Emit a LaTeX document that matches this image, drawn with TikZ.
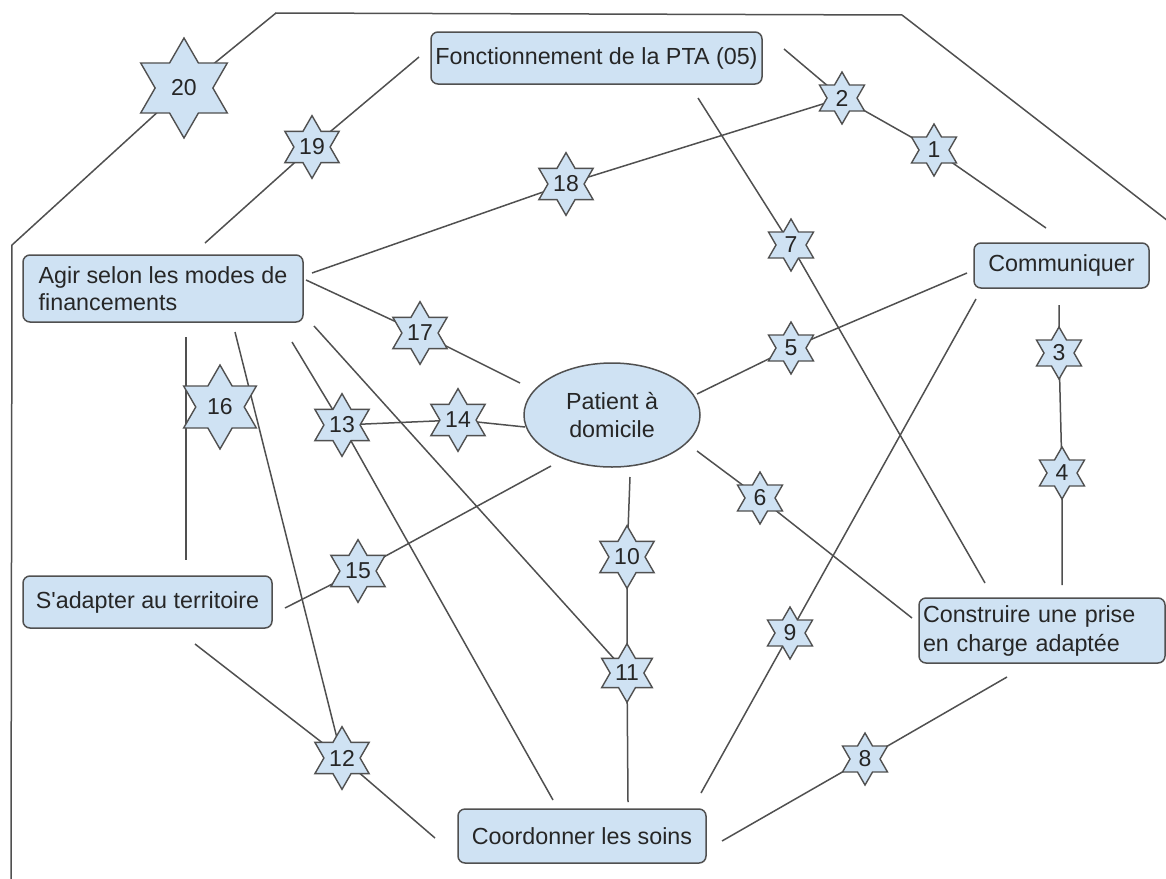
\documentclass[tikz,border=0pt]{standalone}
\usepackage{fontspec}
\setmainfont{Liberation Sans}
\usetikzlibrary{shapes.geometric,backgrounds}
\definecolor{boxfill}{HTML}{CFE2F3}
\definecolor{edgecol}{HTML}{505050}
\definecolor{txtcol}{HTML}{262626}
\begin{document}
\begin{tikzpicture}[x=1pt,y=-1pt,
  box/.style={draw=edgecol, fill=boxfill, line width=1.5pt, rounded corners=7pt, text=txtcol, font=\fontsize{23.3}{27}\selectfont, inner sep=0pt},
  starnode/.style={star, star points=6, star point ratio=1.732, draw=edgecol, fill=boxfill, line width=1.4pt, inner sep=0pt, minimum size=52pt, text=txtcol, font=\fontsize{23}{27}\selectfont},
  bigstar/.style={starnode, minimum size=100pt},
  midstar/.style={starnode, minimum size=84pt},
  link/.style={draw=edgecol, line width=1.5pt}]
\useasboundingbox (0,0) rectangle (1166,878);
% boxes
\node[box, minimum width=331pt, minimum height=52pt] (F) at (596.5,58) {Fonctionnement de la PTA (05)};
\node[box, minimum width=175pt, minimum height=45pt] (C) at (1061.5,265.5) {Communiquer};
\node[box, minimum width=280pt, minimum height=67pt, align=left] (A) at (163,288.5) {Agir selon les modes de\\financements};
\node[box, minimum width=249pt, minimum height=52pt] (S) at (147.5,602) {S\textquotesingle adapter au territoire};
\node[box, minimum width=246pt, minimum height=65pt, text width=238pt, align=left, font=\fontsize{23.3}{29}\selectfont] (K) at (1042,630.5) {Construire une prise\\en charge adaptée};
\node[box, minimum width=248pt, minimum height=54pt] (D) at (582,836) {Coordonner les soins};
\node[ellipse, draw=edgecol, fill=boxfill, line width=1.5pt, minimum width=176pt, minimum height=104pt, inner sep=0pt, align=center, text=txtcol, font=\fontsize{23.3}{28}\selectfont] (P) at (612,415) {Patient à\\domicile};
% stars
\node[bigstar] (s20) at (184,88) {20};
\node[starnode] (s19) at (312,147) {19};
\node[starnode] (s18) at (566,184) {18};
\node[starnode] (s2) at (842,98) {2};
\node[starnode] (s1) at (934,150) {1};
\node[starnode] (s7) at (791,245) {7};
\node[starnode] (s17) at (420,333) {17};
\node[starnode] (s5) at (791,348) {5};
\node[starnode] (s3) at (1059,353) {3};
\node[midstar] (s16) at (220,407) {16};
\node[starnode] (s13) at (342,425) {13};
\node[starnode] (s14) at (458,420) {14};
\node[starnode] (s4) at (1062,473) {4};
\node[starnode] (s6) at (760,498) {6};
\node[starnode] (s10) at (627,557) {10};
\node[starnode] (s15) at (358,571) {15};
\node[starnode] (s9) at (790,633) {9};
\node[starnode] (s11) at (627,673) {11};
\node[starnode] (s12) at (342,758) {12};
\node[starnode] (s8) at (865,759) {8};
% free ends
\coordinate (o1) at (11,880);
\coordinate (o2) at (12,245);
\coordinate (o3) at (276,13);
\coordinate (o4) at (902,15);
\coordinate (o5) at (1168,221);
\coordinate (fA) at (784,49);
\coordinate (cA) at (1046,228);
\coordinate (fB) at (419,57);
\coordinate (aB) at (205,243);
\coordinate (aC) at (312,273);
\coordinate (fD) at (698,98);
\coordinate (kD) at (985,583);
\coordinate (aE) at (306,280);
\coordinate (pE) at (520,383);
\coordinate (pF) at (697,394);
\coordinate (cF) at (967,273);
\coordinate (cG) at (1059,305);
\coordinate (kG) at (1062,585);
\coordinate (aH) at (186,337);
\coordinate (sH) at (186,560);
\coordinate (aI) at (235,332);
\coordinate (aJ) at (292,342);
\coordinate (dJ) at (553,800);
\coordinate (aK) at (314,326);
\coordinate (pL) at (525,427);
\coordinate (pM) at (551,466);
\coordinate (sM) at (285,608);
\coordinate (sN) at (195,644);
\coordinate (dN) at (435,838);
\coordinate (pO) at (630,477);
\coordinate (dO) at (628,802);
\coordinate (cP) at (976,299);
\coordinate (dP) at (701,793);
\coordinate (pQ) at (697,451);
\coordinate (kQ) at (912,618);
\coordinate (kR) at (1007,677);
\coordinate (dR) at (722,841);
\begin{scope}[on background layer]
\draw[link] (o1) -- (o2) -- (s20.center) -- (o3) -- (o4) -- (o5);
\draw[link] (fA) -- (s2.center) -- (s1.center) -- (cA);
\draw[link] (fB) -- (s19.center) -- (aB);
\draw[link] (aC) -- (s18.center) -- (s2.center);
\draw[link] (fD) -- (s7.center) -- (kD);
\draw[link] (aE) -- (s17.center) -- (pE);
\draw[link] (pF) -- (s5.center) -- (cF);
\draw[link] (cG) -- (s3.center) -- (s4.center) -- (kG);
\draw[link] (aH) -- (sH);
\draw[link] (aI) -- (s12.center);
\draw[link] (aJ) -- (s13.center) -- (dJ);
\draw[link] (aK) -- (s11.center);
\draw[link] (s13.center) -- (s14.center) -- (pL);
\draw[link] (pM) -- (s15.center) -- (sM);
\draw[link] (sN) -- (s12.center) -- (dN);
\draw[link] (pO) -- (s10.center) -- (s11.center) -- (dO);
\draw[link] (cP) -- (s9.center) -- (dP);
\draw[link] (pQ) -- (s6.center) -- (kQ);
\draw[link] (kR) -- (s8.center) -- (dR);
\end{scope}
\end{tikzpicture}
\end{document}
